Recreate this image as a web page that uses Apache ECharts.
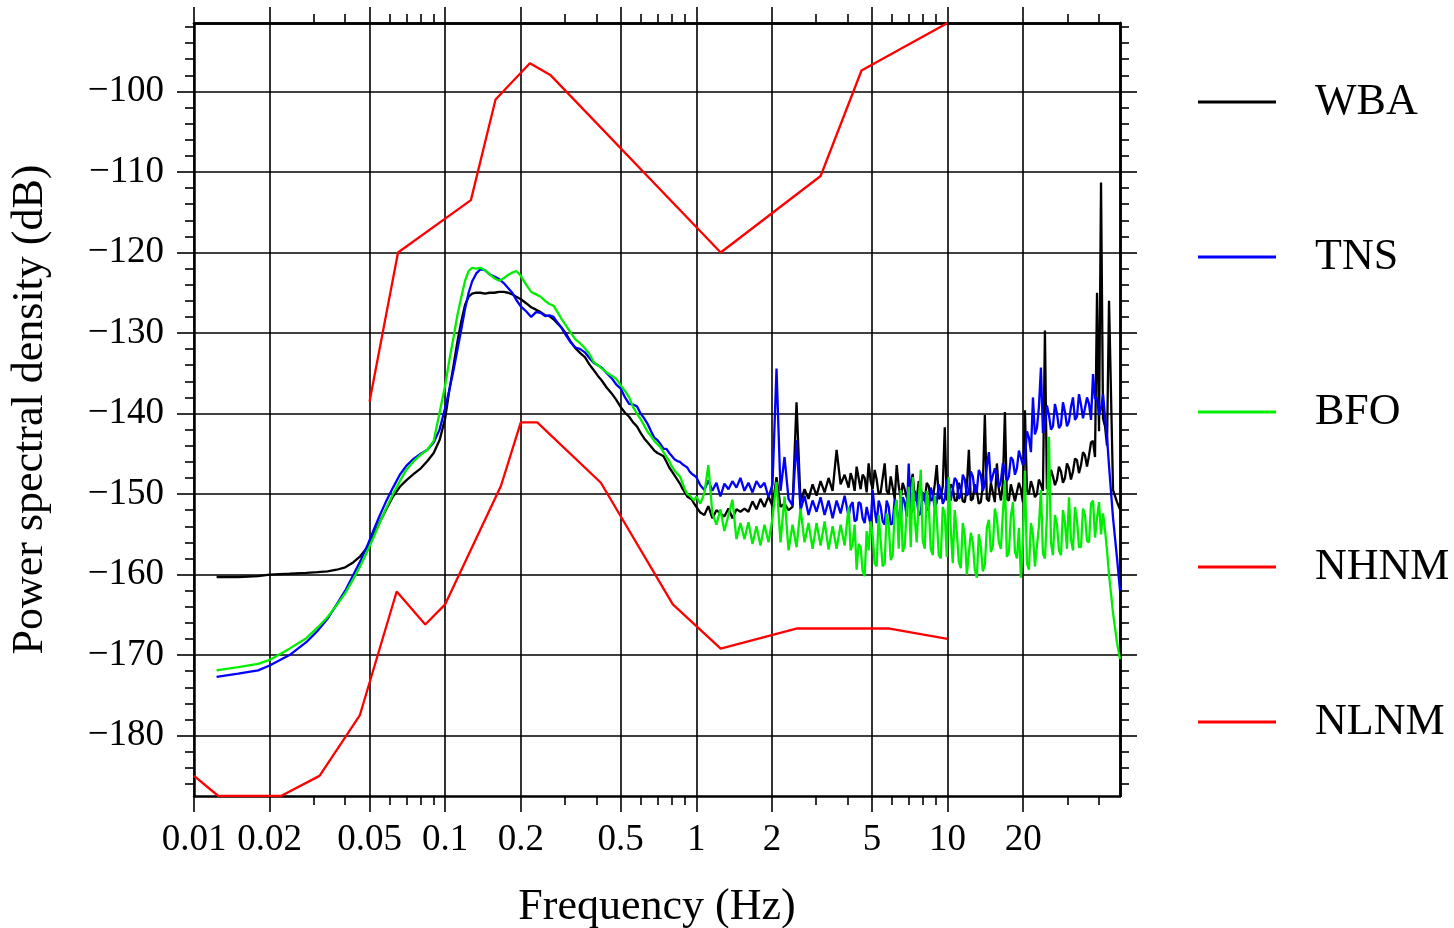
<!DOCTYPE html>
<html>
<head>
<meta charset="utf-8">
<title>Power spectral density</title>
<script src="https://cdn.jsdelivr.net/npm/echarts@6/dist/echarts.min.js"></script>
<style>
  html, body { margin: 0; padding: 0; background: #ffffff; }
  #chart { width: 1454px; height: 928px; }
</style>
</head>
<body>
<div id="chart"></div>
<script>
// ---- Axis ticks ----------------------------------------------------------
const xMajorTicks = [0.01, 0.02, 0.05, 0.1, 0.2, 0.5, 1, 2, 5, 10, 20];
const xMinorTicks = [0.03, 0.04, 0.06, 0.07, 0.08, 0.09, 0.3, 0.4, 0.6, 0.7, 0.8, 0.9,
                     3, 4, 6, 7, 8, 9, 30, 40];
const yMajorTicks = [-180, -170, -160, -150, -140, -130, -120, -110, -100];
const yMinorTicks = [-186, -184, -182, -178, -176, -174, -172, -168, -166, -164, -162,
                     -158, -156, -154, -152, -148, -146, -144, -142, -138, -136, -134,
                     -132, -128, -126, -124, -122, -118, -116, -114, -112, -108, -106,
                     -104, -102, -98, -96, -94, -92];

// ---- Station spectra, 0.0123 - 1 Hz band ----------------------------------
const lowBandHz = [
  0.0123, 0.015, 0.018, 0.02, 0.024, 0.028, 0.031, 0.034, 0.037, 0.04,
  0.043, 0.046, 0.049, 0.052, 0.055, 0.058, 0.062, 0.066, 0.07, 0.075,
  0.08, 0.085, 0.09, 0.095, 0.1, 0.104, 0.108, 0.112, 0.116, 0.12,
  0.124, 0.128, 0.133, 0.138, 0.144, 0.15, 0.157, 0.164, 0.171, 0.178,
  0.185, 0.192, 0.2, 0.21, 0.22, 0.23, 0.24, 0.25, 0.26, 0.27,
  0.28, 0.29, 0.3, 0.315, 0.33, 0.345, 0.36, 0.375, 0.39, 0.405,
  0.42, 0.44, 0.46, 0.48, 0.5, 0.52, 0.54, 0.56, 0.58, 0.6,
  0.62, 0.64, 0.66, 0.68, 0.7, 0.72, 0.74, 0.76, 0.78, 0.8,
  0.82, 0.84, 0.86, 0.88, 0.9, 0.92, 0.94, 0.96, 0.98
];
const wbaLowDb = [
  -160.3, -160.3, -160.2, -160.0, -159.9, -159.8, -159.7, -159.6, -159.4, -159.1,
  -158.5, -157.7, -156.6, -155.0, -153.4, -152.0, -150.3, -149.1, -148.3, -147.5,
  -146.8, -145.9, -144.9, -143.3, -140.6, -137.0, -134.0, -131.0, -128.5, -126.5,
  -125.5, -125.1, -125.0, -125.0, -125.1, -125.0, -125.0, -124.9, -124.9, -125.0,
  -125.2, -125.5, -125.8, -126.3, -126.8, -127.1, -127.4, -127.8, -127.9, -128.3,
  -128.8, -129.3, -129.9, -131.0, -131.9, -132.5, -133.0, -133.9, -134.6, -135.3,
  -135.9, -136.8, -137.5, -138.3, -139.2, -139.9, -140.4, -141.1, -141.6, -142.4,
  -143.1, -143.6, -144.1, -144.6, -144.9, -145.1, -145.3, -146.0, -146.7, -147.2,
  -147.7, -148.2, -148.7, -149.3, -149.8, -150.3, -150.5, -150.7, -151.2
];
const tnsLowDb = [
  -172.7, -172.3, -171.9, -171.3, -170.0, -168.4, -167.0, -165.5, -163.7, -162.0,
  -160.1, -158.3, -156.4, -154.4, -152.6, -151.0, -149.2, -147.6, -146.5, -145.6,
  -145.0, -144.5, -143.6, -142.0, -139.3, -137.0, -134.6, -132.0, -129.5, -127.0,
  -125.0, -123.6, -122.6, -122.1, -122.2, -122.7, -123.0, -123.3, -123.8, -124.4,
  -125.0, -125.9, -126.7, -127.3, -128.0, -127.4, -127.5, -127.9, -127.8, -128.0,
  -128.7, -129.3, -130.1, -131.1, -131.8, -132.0, -132.4, -133.1, -133.7, -134.0,
  -134.3, -135.0, -135.6, -136.4, -136.9, -138.0, -138.8, -138.9, -139.1, -140.0,
  -140.6, -141.3, -142.2, -143.0, -143.3, -143.8, -144.4, -144.4, -144.9, -145.3,
  -145.7, -145.9, -146.0, -146.3, -146.5, -146.7, -147.2, -147.5, -147.7
];
const bfoLowDb = [
  -171.9, -171.5, -171.1, -170.6, -169.2, -167.9, -166.6, -165.3, -163.8, -162.3,
  -160.6, -158.9, -157.1, -155.3, -153.5, -151.9, -150.0, -148.4, -147.0, -145.9,
  -145.1, -144.5, -143.4, -139.9, -136.5, -133.3, -130.5, -127.7, -125.5, -123.5,
  -122.3, -121.9, -122.0, -121.9, -122.2, -122.7, -123.2, -123.5, -123.2, -122.8,
  -122.5, -122.3, -122.9, -124.0, -124.9, -125.2, -125.5, -126.0, -126.4, -126.6,
  -127.4, -128.2, -128.9, -129.9, -130.8, -131.3, -131.9, -132.6, -133.6, -134.0,
  -134.4, -134.9, -135.3, -135.7, -136.5, -137.2, -138.0, -139.2, -140.0, -140.7,
  -141.5, -142.3, -142.8, -143.4, -143.8, -144.2, -144.8, -145.4, -145.9, -146.6,
  -147.1, -147.5, -147.8, -148.6, -149.4, -150.0, -150.2, -150.5, -150.8
];

// ---- Station spectra, 1 - 48.6 Hz band -----------------------------------
const highBandHz = [
  1.000, 1.037, 1.076, 1.116, 1.158, 1.202, 1.247, 1.293, 1.342, 1.392,
  1.444, 1.498, 1.554, 1.612, 1.673, 1.735, 1.800, 1.867, 1.937, 2.010,
  2.085, 2.163, 2.244, 2.328, 2.415, 2.505, 2.599, 2.696, 2.797, 2.902,
  3.010, 3.123, 3.240, 3.361, 3.487, 3.617, 3.752, 3.893, 4.038, 4.189,
  4.346, 4.509, 4.677, 4.852, 5.034, 5.222, 5.418, 5.620, 5.831, 6.049,
  6.275, 6.510, 6.753, 7.006, 7.268, 7.540, 7.822, 8.115, 8.418, 8.733,
  9.060, 9.399, 9.750, 10.11, 10.49, 10.89, 11.29, 11.72, 12.16, 12.61,
  13.08, 13.57, 14.08, 14.61, 15.15, 15.72, 16.31, 16.92, 17.55, 18.21,
  18.89, 19.59, 20.33, 21.09, 21.88, 22.69, 23.54, 24.42, 25.34, 26.28,
  27.27, 28.29, 29.35, 30.44, 31.58, 32.76, 33.99, 35.26, 36.58, 37.95,
  39.37, 40.84, 42.37, 43.95, 45.60, 47.30, 48.60
];
const wbaHighDb = [
  -151.6, -152.3, -152.6, -151.5, -153.0, -152.0, -152.4, -152.8, -151.8, -153.0,
  -151.9, -152.2, -151.8, -152.2, -150.9, -151.9, -150.6, -151.6, -150.3, -151.5,
  -147.9, -151.6, -151.2, -152.0, -151.6, -138.6, -151.0, -149.4, -150.6, -148.8,
  -150.2, -148.4, -149.8, -148.0, -149.6, -144.5, -148.8, -147.6, -149.2, -148.2,
  -146.6, -149.4, -148.0, -146.2, -149.4, -148.2, -149.8, -146.2, -150.0, -149.2,
  -146.4, -150.6, -149.4, -151.0, -147.5, -150.6, -149.2, -150.8, -149.0, -150.6,
  -146.4, -150.4, -141.7, -150.6, -149.2, -150.8, -149.4, -151.0, -144.5, -150.6,
  -149.6, -151.0, -140.2, -150.9, -149.8, -146.2, -150.8, -139.8, -150.8, -149.8,
  -150.8, -149.4, -139.6, -150.0, -149.2, -150.0, -148.8, -129.7, -148.8, -147.8,
  -148.2, -147.2, -148.0, -146.8, -147.2, -145.8, -146.4, -145.2, -145.2, -143.4,
  -125.0, -111.3, -141.6, -126.0, -149.5, -151.0, -151.9
];
const tnsHighDb = [
  -147.9, -148.9, -149.5, -148.3, -149.6, -148.6, -150.3, -148.7, -149.4, -148.4,
  -149.2, -148.0, -149.6, -148.6, -149.8, -148.4, -149.2, -148.6, -150.4, -148.8,
  -134.4, -149.6, -145.4, -150.6, -151.4, -143.3, -152.0, -150.2, -152.6, -150.8,
  -152.2, -150.4, -152.6, -150.8, -153.0, -150.8, -152.4, -150.2, -152.8, -151.0,
  -153.2, -151.2, -153.6, -151.4, -149.5, -153.6, -151.6, -153.8, -151.6, -153.6,
  -151.6, -153.2, -151.0, -146.2, -152.0, -150.6, -152.4, -150.4, -151.8, -150.0,
  -151.0, -149.6, -150.6, -148.8, -150.6, -148.4, -150.2, -148.2, -149.8, -147.8,
  -149.6, -147.6, -148.8, -144.8, -148.8, -147.8, -148.4, -147.0, -147.8, -145.8,
  -146.8, -144.8, -145.6, -143.0, -138.0, -141.8, -134.3, -141.2, -140.2, -141.6,
  -140.0, -141.4, -139.8, -141.0, -138.0, -140.4, -138.9, -140.6, -138.8, -135.1,
  -138.0, -139.4, -140.5, -146.5, -153.0, -158.0, -162.0
];
const bfoHighDb = [
  -150.3, -151.2, -149.9, -146.4, -152.4, -153.8, -151.9, -154.6, -152.6, -150.7,
  -155.6, -153.6, -155.6, -153.5, -156.2, -154.0, -156.4, -153.8, -156.0, -153.0,
  -148.5, -156.0, -150.3, -157.0, -153.8, -156.6, -151.8, -156.0, -153.6, -156.8,
  -153.6, -156.4, -153.4, -156.9, -154.0, -156.8, -153.8, -156.4, -151.6, -156.2,
  -159.4, -156.6, -160.2, -157.0, -155.2, -159.0, -155.8, -158.6, -153.8, -157.6,
  -150.7, -149.5, -156.4, -149.1, -147.9, -156.0, -147.0, -156.8, -151.5, -157.6,
  -153.0, -158.0, -152.5, -147.9, -158.6, -154.8, -159.2, -155.2, -159.8, -156.0,
  -160.4, -156.5, -158.8, -153.2, -156.5, -153.0, -156.8, -148.3, -157.2, -151.0,
  -158.0, -160.4, -147.1, -159.4, -155.0, -158.8, -149.5, -158.0, -142.9, -157.6,
  -153.8, -157.6, -153.6, -150.4, -157.0, -153.2, -156.6, -152.6, -156.0, -150.8,
  -153.0, -155.0, -154.5, -160.0, -164.8, -168.5, -170.5
];

// ---- Station spectra, extra bins between 4.1 and 43 Hz --------------------
const midBandHz = [
  4.113, 4.267, 4.426, 4.592, 4.764, 4.942, 5.127, 5.319, 5.518, 5.724,
  5.939, 6.161, 6.391, 6.630, 6.878, 7.136, 7.402, 7.679, 7.967, 8.265,
  8.574, 8.895, 9.228, 9.573, 9.930, 10.30, 10.68, 11.09, 11.50, 11.94,
  12.38, 12.84, 13.32, 13.82, 14.34, 14.88, 15.43, 16.01, 16.61, 17.23,
  17.87, 18.55, 19.24, 19.95, 20.71, 21.48, 22.28, 23.11, 23.98, 24.87,
  25.81, 26.77, 27.77, 28.81, 29.89, 31.00, 32.16, 33.37, 34.62, 35.91,
  37.26, 38.65, 40.10, 41.60, 43.15
];
const wbaMidDb = [
  -147.4, -149.6, -148.0, -147.6, -149.8, -148.4, -147.0, -150.0, -148.0, -149.6,
  -147.8, -150.6, -149.0, -148.6, -150.4, -148.6, -150.8, -148.4, -150.6, -148.6,
  -150.8, -148.8, -150.6, -149.0, -150.8, -148.8, -150.8, -148.6, -150.9, -149.0,
  -150.8, -148.8, -151.2, -149.0, -150.6, -148.6, -151.0, -149.4, -148.6, -150.6,
  -148.8, -150.9, -148.6, -151.0, -149.6, -148.4, -150.4, -148.2, -149.6, -149.4,
  -147.0, -148.9, -146.6, -148.6, -146.2, -148.2, -145.6, -147.4, -144.8, -146.6,
  -143.6, -145.4, -142.2, -140.6, -144.0
];
const tnsMidDb = [
  -151.4, -153.4, -151.0, -153.0, -151.6, -153.8, -152.0, -150.8, -153.4, -150.8,
  -153.8, -150.6, -153.6, -150.4, -152.8, -152.4, -149.6, -152.6, -149.8, -152.0,
  -149.2, -151.8, -148.8, -151.2, -148.2, -150.8, -148.0, -150.6, -147.6, -150.2,
  -147.2, -149.8, -147.0, -149.6, -146.6, -148.6, -146.8, -149.2, -146.2, -148.4,
  -145.4, -147.6, -144.6, -146.4, -142.2, -144.8, -142.6, -139.2, -142.4, -139.0,
  -142.0, -138.8, -141.8, -138.6, -141.6, -139.2, -140.8, -137.6, -140.6, -138.0,
  -140.8, -138.2, -140.2, -137.6, -143.0
];
const bfoMidDb = [
  -157.0, -153.8, -156.2, -159.6, -154.6, -153.4, -158.6, -152.6, -159.0, -152.4,
  -158.2, -152.0, -156.8, -157.2, -152.0, -156.6, -153.0, -150.8, -155.8, -149.6,
  -156.8, -150.2, -157.6, -151.6, -157.8, -154.4, -152.0, -158.4, -153.6, -160.0,
  -154.8, -159.4, -155.0, -159.6, -154.2, -157.2, -151.8, -156.0, -152.4, -157.8,
  -152.8, -157.2, -154.2, -156.0, -158.6, -153.6, -159.0, -154.0, -157.4, -152.8,
  -156.0, -152.6, -157.0, -152.0, -156.8, -155.6, -151.6, -156.6, -151.8, -155.8,
  -151.2, -155.4, -151.0, -152.4, -157.0
];

// ---- Peterson noise models -----------------------------------------------
const nhnmHz = [0.05, 0.0649, 0.1266, 0.1587, 0.2174, 0.2632, 1.25, 3.125, 4.545, 10];
const nhnmDb = [-138.5, -120.0, -113.5, -101.0, -96.5, -98.0, -120.0, -110.5, -97.4, -91.5];
const nlnmHz = [0.01, 0.0125, 0.0222, 0.0316, 0.0457, 0.0641, 0.0833, 0.1, 0.1667,
                0.2, 0.2326, 0.4167, 0.806, 1.25, 2.5, 5.882, 10];
const nlnmDb = [-185.0, -187.5, -187.5, -185.0, -177.5, -162.1, -166.2, -163.7, -149.0,
                -141.1, -141.1, -148.6, -163.7, -169.2, -166.7, -166.7, -168.0];

// ---- Build ---------------------------------------------------------------
const FONT = 'Liberation Serif';
const pairs = (hz, db) => hz.map((f, i) => [f, db[i]]);
const stationData = (lo, hi, mid) =>
  pairs(lowBandHz, lo).concat(pairs(highBandHz, hi), pairs(midBandHz, mid))
    .sort((a, b) => a[0] - b[0]);
const fmtHz = v => String(parseFloat(Number(v).toPrecision(6)));
const fmtDb = v => (v < 0 ? '\u2212' : '') + Math.abs(v);

const xRange = { type: 'log', logBase: 10, min: 0.01, max: 48.6 };
const yRange = { type: 'value', min: -187.5, max: -91.5 };
const frame = { show: true, onZero: false, lineStyle: { color: '#000', width: 2.5 } };
const noFrame = { show: false, onZero: false };

function xAxisDef(position, ticks, len, withLabels, withGrid) {
  return Object.assign({}, xRange, {
    position: position,
    axisLine: withLabels || position === 'top' ? frame : noFrame,
    axisTick: { show: true, inside: false, length: len, customValues: ticks,
                lineStyle: { color: '#000', width: 1.6 } },
    axisLabel: withLabels ? { show: true, customValues: ticks, formatter: fmtHz,
                fontFamily: FONT, fontSize: 37, color: '#000', margin: 26 } : { show: false },
    splitLine: withGrid ? { show: true, lineStyle: { color: '#000', width: 1.6 } } : { show: false },
    minorTick: { show: false }, minorSplitLine: { show: false }
  });
}
function yAxisDef(position, ticks, len, withLabels, withGrid) {
  return Object.assign({}, yRange, {
    position: position,
    axisLine: withLabels || position === 'right' ? frame : noFrame,
    axisTick: { show: true, inside: false, length: len, customValues: ticks,
                lineStyle: { color: '#000', width: 1.6 } },
    axisLabel: withLabels ? { show: true, customValues: ticks, formatter: fmtDb,
                fontFamily: FONT, fontSize: 37, color: '#000', margin: 30 } : { show: false },
    splitLine: withGrid ? { show: true, lineStyle: { color: '#000', width: 1.6 } } : { show: false },
    minorTick: { show: false }, minorSplitLine: { show: false }
  });
}

const xMain = xAxisDef('bottom', xMajorTicks, 16, true, true);
xMain.name = 'Frequency (Hz)';
xMain.nameLocation = 'middle';
xMain.nameGap = 89;
xMain.nameTextStyle = { fontFamily: FONT, fontSize: 44, color: '#000' };

const yMain = yAxisDef('left', yMajorTicks, 17, true, true);
yMain.name = 'Power spectral density (dB)';
yMain.nameLocation = 'middle';
yMain.nameGap = 142;
yMain.nameTextStyle = { fontFamily: FONT, fontSize: 44, color: '#000' };

function lineSeries(name, color, data, z) {
  return {
    name: name, type: 'line', data: data, xAxisIndex: 0, yAxisIndex: 0,
    symbol: 'none', showSymbol: false, smooth: false, clip: true, z: z,
    lineStyle: { color: color, width: 2.3 }, itemStyle: { color: color },
    emphasis: { disabled: true }
  };
}

const chart = echarts.init(document.getElementById('chart'), null, { renderer: 'canvas' });
chart.setOption({
  animation: false,
  backgroundColor: '#ffffff',
  grid: { left: 194, top: 23, width: 926, height: 773, containLabel: false, outerBoundsMode: 'none' },
  xAxis: [
    xMain,
    xAxisDef('bottom', xMinorTicks, 9, false, false),
    xAxisDef('top', xMajorTicks, 16, false, false),
    xAxisDef('top', xMinorTicks, 9, false, false)
  ],
  yAxis: [
    yMain,
    yAxisDef('left', yMinorTicks, 9, false, false),
    yAxisDef('right', yMajorTicks, 17, false, false),
    yAxisDef('right', yMinorTicks, 9, false, false)
  ],
  legend: {
    orient: 'vertical', left: 1198, top: 80, padding: 0,
    itemWidth: 78, itemHeight: 3, itemGap: 111, icon: 'rect',
    selectedMode: false,
    data: ['WBA', 'TNS', 'BFO', 'NHNM', 'NLNM'],
    textStyle: { fontFamily: FONT, fontSize: 44, color: '#000', lineHeight: 44,
                 padding: [0, 0, 0, 34] }
  },
  series: [
    lineSeries('WBA', '#000000', stationData(wbaLowDb, wbaHighDb, wbaMidDb), 3),
    lineSeries('TNS', '#0000ff', stationData(tnsLowDb, tnsHighDb, tnsMidDb), 4),
    lineSeries('BFO', '#00ee00', stationData(bfoLowDb, bfoHighDb, bfoMidDb), 5),
    lineSeries('NHNM', '#ff0000', pairs(nhnmHz, nhnmDb), 6),
    lineSeries('NLNM', '#ff0000', pairs(nlnmHz, nlnmDb), 6)
  ]
});
</script>
</body>
</html>
